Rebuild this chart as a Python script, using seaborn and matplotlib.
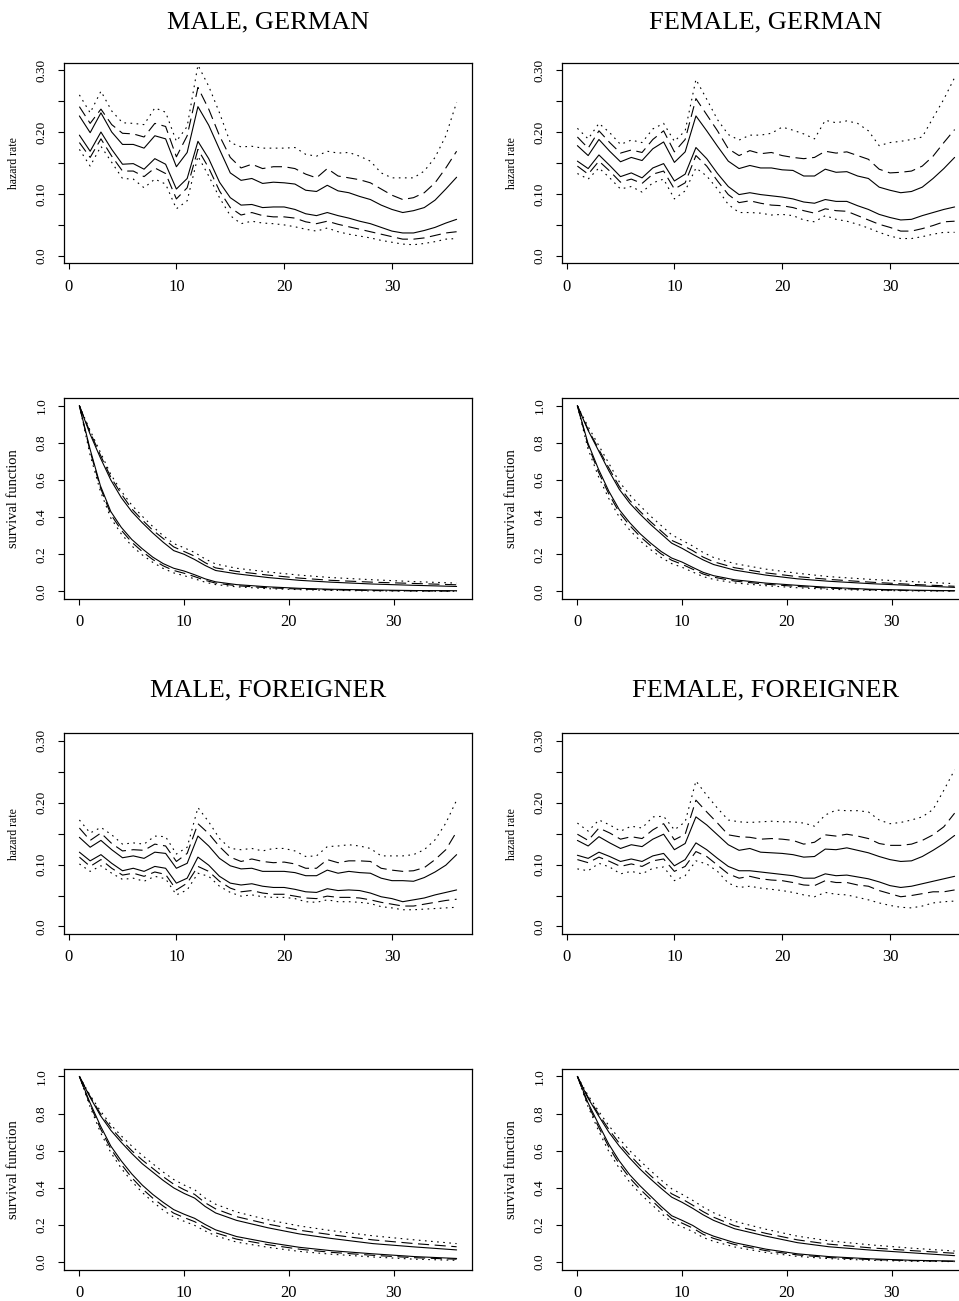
import matplotlib
matplotlib.use("Agg")
import matplotlib.pyplot as plt
import seaborn as sns
import pandas as pd

# ---------------- data ----------------
months = list(range(1, 37))
surv_t = [0, 1, 2, 3, 4, 5, 6, 7, 8, 9, 10, 11, 12, 13, 15, 18, 21, 24, 28, 32, 36]
panel_titles = ["MALE, GERMAN", "FEMALE, GERMAN", "MALE, FOREIGNER", "FEMALE, FOREIGNER"]
hazard_ticks = [0.0, 0.05, 0.10, 0.15, 0.20, 0.25, 0.30]
hazard_ticklabels = ["0.0", "", "0.10", "", "0.20", "", "0.30"]
surv_ticks = [0.0, 0.2, 0.4, 0.6, 0.8, 1.0]
surv_ticklabels = ["0.0", "0.2", "0.4", "0.6", "0.8", "1.0"]
x_ticks = [0, 10, 20, 30]

# hazard rates: MALE, GERMAN
mg_hi_solid = [0.226,0.199,0.231,0.200,0.180,0.180,0.174,0.194,0.189,0.144,0.167,0.241,0.211,0.172,0.134,0.122,0.125,0.117,0.119,0.118,0.116,0.106,0.104,0.114,0.105,0.102,0.096,0.091,0.082,0.075,0.070,0.073,0.078,0.090,0.108,0.127]
mg_hi_dash = [0.241,0.214,0.237,0.212,0.198,0.197,0.192,0.214,0.209,0.160,0.194,0.272,0.237,0.194,0.159,0.142,0.148,0.141,0.144,0.144,0.141,0.132,0.126,0.141,0.129,0.126,0.123,0.118,0.108,0.098,0.091,0.094,0.102,0.118,0.142,0.169]
mg_hi_dot = [0.260,0.231,0.266,0.234,0.215,0.214,0.212,0.239,0.232,0.185,0.209,0.308,0.274,0.231,0.183,0.176,0.177,0.174,0.174,0.174,0.175,0.164,0.161,0.169,0.166,0.167,0.161,0.153,0.134,0.126,0.126,0.126,0.137,0.159,0.194,0.248]
mg_lo_solid = [0.195,0.169,0.200,0.172,0.148,0.149,0.140,0.157,0.148,0.108,0.125,0.185,0.157,0.119,0.094,0.082,0.083,0.078,0.079,0.079,0.075,0.068,0.065,0.070,0.065,0.061,0.056,0.052,0.046,0.040,0.037,0.037,0.041,0.046,0.053,0.059]
mg_lo_dash = [0.183,0.159,0.189,0.161,0.137,0.137,0.128,0.142,0.133,0.092,0.110,0.172,0.142,0.105,0.078,0.066,0.070,0.065,0.063,0.063,0.061,0.055,0.052,0.056,0.051,0.047,0.043,0.039,0.035,0.031,0.027,0.027,0.029,0.033,0.037,0.039]
mg_lo_dot = [0.172,0.145,0.177,0.151,0.125,0.124,0.110,0.124,0.116,0.076,0.089,0.161,0.129,0.094,0.065,0.052,0.056,0.053,0.052,0.050,0.047,0.043,0.040,0.045,0.039,0.035,0.032,0.029,0.025,0.022,0.019,0.018,0.020,0.023,0.027,0.028]

# hazard rates: FEMALE, GERMAN
fg_hi_solid = [0.178,0.162,0.188,0.169,0.152,0.159,0.154,0.173,0.184,0.151,0.168,0.226,0.202,0.177,0.153,0.141,0.146,0.142,0.142,0.139,0.138,0.129,0.129,0.140,0.135,0.136,0.129,0.125,0.111,0.106,0.102,0.104,0.111,0.125,0.141,0.159]
fg_hi_dash = [0.192,0.174,0.202,0.183,0.166,0.171,0.167,0.188,0.202,0.168,0.188,0.254,0.228,0.202,0.173,0.162,0.170,0.165,0.167,0.162,0.159,0.157,0.159,0.169,0.166,0.168,0.162,0.156,0.140,0.134,0.135,0.137,0.145,0.161,0.183,0.204]
fg_hi_dot = [0.206,0.189,0.214,0.199,0.180,0.187,0.183,0.205,0.214,0.185,0.202,0.285,0.253,0.220,0.196,0.187,0.195,0.195,0.198,0.208,0.203,0.197,0.189,0.219,0.215,0.218,0.214,0.202,0.178,0.183,0.185,0.188,0.192,0.223,0.253,0.288]
fg_lo_solid = [0.153,0.141,0.163,0.146,0.128,0.134,0.126,0.142,0.149,0.121,0.132,0.175,0.157,0.133,0.112,0.099,0.102,0.099,0.097,0.095,0.092,0.087,0.085,0.091,0.088,0.088,0.081,0.075,0.067,0.062,0.058,0.059,0.065,0.070,0.075,0.079]
fg_lo_dash = [0.145,0.132,0.153,0.137,0.119,0.124,0.117,0.132,0.137,0.108,0.118,0.162,0.145,0.121,0.099,0.086,0.089,0.085,0.082,0.081,0.078,0.073,0.069,0.076,0.073,0.072,0.065,0.058,0.051,0.046,0.040,0.040,0.044,0.049,0.055,0.056]
fg_lo_dot = [0.133,0.124,0.142,0.126,0.108,0.112,0.103,0.118,0.124,0.092,0.105,0.142,0.129,0.108,0.083,0.070,0.070,0.069,0.066,0.067,0.065,0.058,0.055,0.065,0.059,0.056,0.051,0.045,0.038,0.032,0.028,0.028,0.031,0.035,0.038,0.038]

# hazard rates: MALE, FOREIGNER
mf_hi_solid = [0.144,0.128,0.139,0.124,0.111,0.114,0.110,0.120,0.118,0.094,0.102,0.146,0.130,0.110,0.098,0.093,0.094,0.089,0.089,0.089,0.087,0.082,0.082,0.091,0.086,0.089,0.087,0.086,0.078,0.074,0.074,0.073,0.079,0.088,0.099,0.116]
mf_hi_dash = [0.159,0.139,0.151,0.134,0.122,0.124,0.123,0.133,0.130,0.105,0.118,0.166,0.150,0.129,0.112,0.105,0.109,0.105,0.103,0.104,0.101,0.094,0.094,0.108,0.103,0.106,0.106,0.105,0.094,0.091,0.089,0.090,0.095,0.108,0.124,0.153]
mf_hi_dot = [0.172,0.151,0.160,0.148,0.133,0.135,0.133,0.146,0.145,0.117,0.128,0.192,0.169,0.142,0.126,0.124,0.126,0.122,0.126,0.126,0.122,0.113,0.114,0.129,0.130,0.132,0.130,0.126,0.114,0.114,0.114,0.116,0.124,0.140,0.167,0.204]
mf_lo_solid = [0.120,0.106,0.116,0.102,0.090,0.094,0.089,0.097,0.094,0.070,0.078,0.112,0.099,0.081,0.070,0.067,0.069,0.065,0.063,0.063,0.060,0.056,0.055,0.061,0.058,0.059,0.058,0.054,0.048,0.045,0.040,0.043,0.046,0.051,0.055,0.059]
mf_lo_dash = [0.112,0.097,0.108,0.094,0.083,0.086,0.081,0.088,0.084,0.059,0.070,0.097,0.089,0.073,0.062,0.056,0.058,0.054,0.052,0.052,0.049,0.046,0.045,0.049,0.047,0.047,0.046,0.043,0.039,0.036,0.033,0.033,0.036,0.039,0.042,0.044]
mf_lo_dot = [0.101,0.089,0.098,0.086,0.076,0.078,0.073,0.081,0.077,0.051,0.059,0.086,0.081,0.065,0.055,0.049,0.051,0.048,0.047,0.047,0.045,0.040,0.039,0.043,0.040,0.040,0.039,0.037,0.032,0.030,0.027,0.027,0.028,0.029,0.030,0.031]

# hazard rates: FEMALE, FOREIGNER
ff_hi_solid = [0.139,0.130,0.145,0.135,0.126,0.132,0.129,0.141,0.149,0.124,0.134,0.177,0.164,0.148,0.132,0.123,0.126,0.120,0.119,0.118,0.116,0.112,0.113,0.125,0.124,0.127,0.123,0.119,0.113,0.108,0.105,0.106,0.113,0.123,0.134,0.147]
ff_hi_dash = [0.149,0.139,0.159,0.151,0.141,0.145,0.142,0.156,0.166,0.140,0.149,0.204,0.185,0.167,0.148,0.145,0.144,0.141,0.142,0.141,0.139,0.133,0.136,0.148,0.146,0.149,0.146,0.142,0.134,0.131,0.131,0.133,0.139,0.148,0.161,0.183]
ff_hi_dot = [0.167,0.154,0.172,0.164,0.154,0.162,0.159,0.177,0.178,0.156,0.169,0.235,0.212,0.191,0.172,0.169,0.168,0.169,0.170,0.169,0.169,0.167,0.162,0.180,0.188,0.187,0.187,0.185,0.172,0.166,0.168,0.172,0.177,0.189,0.220,0.253]
ff_lo_solid = [0.115,0.110,0.120,0.113,0.105,0.109,0.105,0.114,0.118,0.098,0.108,0.135,0.124,0.110,0.097,0.090,0.090,0.088,0.086,0.084,0.082,0.078,0.078,0.085,0.082,0.083,0.080,0.077,0.072,0.066,0.063,0.065,0.069,0.073,0.077,0.081]
ff_lo_dash = [0.108,0.103,0.112,0.105,0.097,0.101,0.097,0.106,0.109,0.089,0.097,0.121,0.113,0.099,0.085,0.078,0.081,0.077,0.075,0.074,0.071,0.067,0.066,0.074,0.071,0.071,0.067,0.065,0.058,0.053,0.048,0.050,0.053,0.056,0.056,0.059]
ff_lo_dot = [0.093,0.090,0.102,0.096,0.085,0.089,0.085,0.094,0.096,0.074,0.082,0.106,0.101,0.089,0.070,0.063,0.065,0.062,0.060,0.058,0.055,0.051,0.048,0.055,0.052,0.051,0.047,0.043,0.038,0.034,0.031,0.030,0.033,0.038,0.040,0.041]

# survival functions (at surv_t)
mg_s_hi_solid = [1,0.85,0.72,0.60,0.505,0.43,0.37,0.315,0.265,0.22,0.20,0.172,0.14,0.113,0.095,0.075,0.06,0.05,0.04,0.033,0.027]
mg_s_hi_dash = [1,0.86,0.735,0.615,0.525,0.445,0.385,0.33,0.285,0.24,0.215,0.19,0.155,0.127,0.108,0.088,0.072,0.06,0.05,0.043,0.036]
mg_s_hi_dot = [1,0.87,0.75,0.63,0.54,0.465,0.405,0.35,0.30,0.258,0.235,0.21,0.175,0.148,0.125,0.105,0.088,0.075,0.063,0.053,0.045]
mg_s_lo_solid = [1,0.77,0.57,0.43,0.345,0.28,0.23,0.185,0.15,0.125,0.11,0.09,0.068,0.052,0.037,0.025,0.017,0.012,0.008,0.005,0.004]
mg_s_lo_dash = [1,0.76,0.56,0.415,0.33,0.265,0.215,0.172,0.138,0.113,0.098,0.08,0.06,0.045,0.031,0.02,0.013,0.009,0.005,0.003,0.002]
mg_s_lo_dot = [1,0.74,0.54,0.395,0.31,0.245,0.197,0.157,0.124,0.10,0.085,0.068,0.05,0.037,0.025,0.015,0.01,0.006,0.003,0.002,0.001]

fg_s_hi_solid = [1,0.87,0.76,0.65,0.55,0.475,0.415,0.36,0.31,0.26,0.232,0.2,0.17,0.145,0.115,0.088,0.068,0.055,0.042,0.032,0.022]
fg_s_hi_dash = [1,0.875,0.77,0.665,0.565,0.49,0.43,0.375,0.325,0.275,0.25,0.22,0.185,0.16,0.128,0.1,0.08,0.065,0.05,0.038,0.028]
fg_s_hi_dot = [1,0.89,0.79,0.69,0.59,0.52,0.46,0.405,0.355,0.305,0.275,0.245,0.21,0.183,0.15,0.12,0.098,0.08,0.065,0.053,0.042]
fg_s_lo_solid = [1,0.80,0.66,0.54,0.44,0.37,0.31,0.26,0.215,0.18,0.158,0.13,0.103,0.085,0.063,0.045,0.033,0.022,0.012,0.007,0.004]
fg_s_lo_dash = [1,0.79,0.645,0.525,0.425,0.355,0.295,0.246,0.202,0.168,0.146,0.12,0.094,0.077,0.056,0.039,0.027,0.018,0.009,0.005,0.003]
fg_s_lo_dot = [1,0.77,0.62,0.50,0.40,0.33,0.272,0.225,0.183,0.15,0.13,0.105,0.08,0.065,0.046,0.031,0.02,0.012,0.006,0.003,0.002]

mf_s_hi_solid = [1,0.89,0.79,0.71,0.645,0.585,0.53,0.485,0.44,0.40,0.37,0.345,0.30,0.265,0.225,0.185,0.152,0.128,0.10,0.082,0.066]
mf_s_hi_dash = [1,0.895,0.80,0.725,0.66,0.60,0.55,0.505,0.46,0.42,0.39,0.365,0.32,0.287,0.245,0.205,0.172,0.148,0.12,0.10,0.083]
mf_s_hi_dot = [1,0.90,0.815,0.74,0.68,0.625,0.575,0.53,0.485,0.445,0.415,0.39,0.345,0.312,0.27,0.228,0.195,0.17,0.142,0.12,0.10]
mf_s_lo_solid = [1,0.86,0.735,0.625,0.545,0.475,0.415,0.365,0.322,0.283,0.258,0.236,0.203,0.174,0.138,0.106,0.08,0.062,0.045,0.03,0.02]
mf_s_lo_dash = [1,0.85,0.72,0.61,0.527,0.455,0.395,0.345,0.302,0.264,0.24,0.218,0.186,0.158,0.124,0.094,0.07,0.053,0.037,0.024,0.016]
mf_s_lo_dot = [1,0.84,0.70,0.59,0.505,0.435,0.375,0.325,0.28,0.243,0.22,0.198,0.168,0.142,0.108,0.08,0.058,0.043,0.028,0.016,0.01]

ff_s_hi_solid = [1,0.885,0.79,0.70,0.625,0.56,0.50,0.447,0.397,0.35,0.322,0.29,0.255,0.225,0.18,0.14,0.105,0.083,0.065,0.05,0.035]
ff_s_hi_dash = [1,0.89,0.80,0.715,0.64,0.577,0.518,0.465,0.415,0.368,0.34,0.307,0.272,0.242,0.196,0.155,0.12,0.097,0.077,0.062,0.048]
ff_s_hi_dot = [1,0.90,0.815,0.735,0.665,0.60,0.545,0.492,0.442,0.395,0.365,0.333,0.297,0.266,0.22,0.177,0.14,0.115,0.093,0.075,0.06]
ff_s_lo_solid = [1,0.86,0.745,0.635,0.545,0.47,0.41,0.355,0.30,0.25,0.225,0.198,0.163,0.14,0.105,0.07,0.045,0.03,0.018,0.01,0.006]
ff_s_lo_dash = [1,0.85,0.73,0.62,0.528,0.453,0.392,0.338,0.284,0.235,0.21,0.184,0.15,0.128,0.095,0.062,0.039,0.025,0.014,0.008,0.004]
ff_s_lo_dot = [1,0.84,0.71,0.595,0.505,0.43,0.368,0.315,0.263,0.215,0.19,0.165,0.133,0.112,0.082,0.052,0.031,0.019,0.01,0.005,0.003]

hazards = [
    [mg_hi_solid, mg_hi_dash, mg_hi_dot, mg_lo_solid, mg_lo_dash, mg_lo_dot],
    [fg_hi_solid, fg_hi_dash, fg_hi_dot, fg_lo_solid, fg_lo_dash, fg_lo_dot],
    [mf_hi_solid, mf_hi_dash, mf_hi_dot, mf_lo_solid, mf_lo_dash, mf_lo_dot],
    [ff_hi_solid, ff_hi_dash, ff_hi_dot, ff_lo_solid, ff_lo_dash, ff_lo_dot],
]
survivals = [
    [mg_s_hi_solid, mg_s_hi_dash, mg_s_hi_dot, mg_s_lo_solid, mg_s_lo_dash, mg_s_lo_dot],
    [fg_s_hi_solid, fg_s_hi_dash, fg_s_hi_dot, fg_s_lo_solid, fg_s_lo_dash, fg_s_lo_dot],
    [mf_s_hi_solid, mf_s_hi_dash, mf_s_hi_dot, mf_s_lo_solid, mf_s_lo_dash, mf_s_lo_dot],
    [ff_s_hi_solid, ff_s_hi_dash, ff_s_hi_dot, ff_s_lo_solid, ff_s_lo_dash, ff_s_lo_dot],
]

# ---------------- style ----------------
sns.set_style("ticks")
plt.rcParams["font.family"] = ["Liberation Serif", "DejaVu Serif"]
plt.rcParams["axes.linewidth"] = 0.9
plt.rcParams["axes.edgecolor"] = "black"
plt.rcParams["text.color"] = "black"
plt.rcParams["axes.labelcolor"] = "black"
plt.rcParams["xtick.color"] = "black"
plt.rcParams["ytick.color"] = "black"

LW = 0.8
line_styles = ["-", (0, (10, 5)), (0, (1.5, 4)), "-", (0, (10, 5)), (0, (1.5, 4))]

W, H = 959, 1301
fig = plt.figure(figsize=(W / 100, H / 100), dpi=100)

col_left = [64.3, 562.3]
ax_w = 407.4
row_top = {"h0": 62.7, "s0": 398.3, "h1": 733.3, "s1": 1069.0}
title_y = [22.0, 690.0]
ax_h = 200.6


def make_ax(left_px, top_px):
    return fig.add_axes([left_px / W, 1 - (top_px + ax_h) / H, ax_w / W, ax_h / H])


def style_axis(ax, yticks, ylabels, ylabel, xsize, ylabelsize):
    ax.set_xticks(x_ticks)
    ax.set_xticklabels([str(v) for v in x_ticks], fontsize=xsize)
    ax.set_yticks(yticks)
    ax.set_yticklabels(ylabels, fontsize=9.5, rotation=90, va="center")
    ax.tick_params(axis="both", direction="out", length=4, width=0.8, colors="black")
    ax.tick_params(axis="x", pad=7)
    ax.tick_params(axis="y", pad=8)
    ax.set_xlabel("")
    ax.set_ylabel(ylabel, fontsize=ylabelsize, labelpad=11, color="black")
    for s in ax.spines.values():
        s.set_visible(True)
        s.set_color("black")
        s.set_linewidth(0.9)


for p in range(4):
    col = p % 2
    blk = p // 2
    left = col_left[col]
    # hazard panel
    axh = make_ax(left, row_top["h%d" % blk])
    for vals, ls in zip(hazards[p], line_styles):
        df = pd.DataFrame({"t": months, "v": vals})
        sns.lineplot(data=df, x="t", y="v", ax=axh, color="black", lw=LW,
                     linestyle=ls, estimator=None, legend=False)
    axh.set_xlim(-0.4, 37.4)
    axh.set_ylim(-0.012, 0.312)
    style_axis(axh, hazard_ticks, hazard_ticklabels, "hazard rate", 12, 8.5)
    fig.text((left + ax_w / 2) / W, 1 - title_y[blk] / H, panel_titles[p],
             ha="center", va="center", fontsize=19, color="black")

    # survival panel
    axs = make_ax(left, row_top["s%d" % blk])
    for vals, ls in zip(survivals[p], line_styles):
        df = pd.DataFrame({"t": surv_t, "v": vals})
        sns.lineplot(data=df, x="t", y="v", ax=axs, color="black", lw=LW,
                     linestyle=ls, estimator=None, legend=False)
    axs.set_xlim(-1.44, 37.44)
    axs.set_ylim(-0.04, 1.04)
    style_axis(axs, surv_ticks, surv_ticklabels, "survival function", 12, 10.5)

fig.savefig("out.png", dpi=100)
